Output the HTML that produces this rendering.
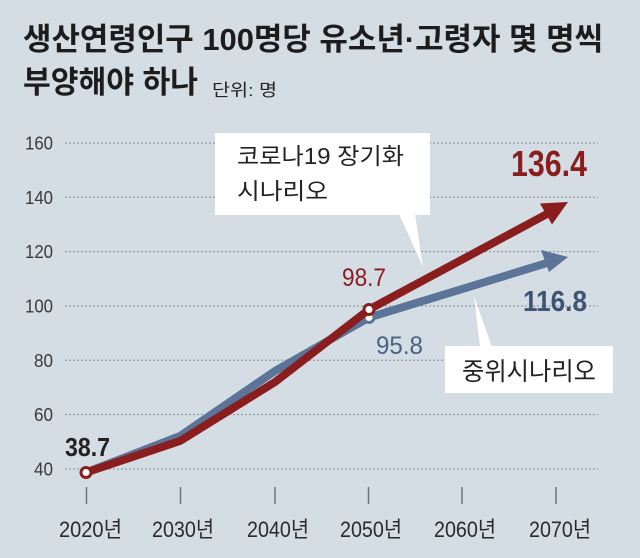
<!DOCTYPE html>
<html>
<head>
<meta charset="utf-8">
<style>
  html,body{margin:0;padding:0;background:#d4dce4;}
  svg{display:block;}
  text{font-family:"Liberation Sans","Noto Sans CJK KR",sans-serif;}
</style>
</head>
<body>
<svg width="640" height="558" viewBox="0 0 640 558" xmlns="http://www.w3.org/2000/svg">
  <rect x="0" y="0" width="640" height="558" fill="#d4dce4"/>

  <!-- Title -->
  <text x="23" y="50" font-size="31" font-weight="bold" fill="#1c1c1c" textLength="580" lengthAdjust="spacingAndGlyphs">생산연령인구 100명당 유소년·고령자 몇 명씩</text>
  <text x="23" y="93" font-size="31" font-weight="bold" fill="#1c1c1c" textLength="175" lengthAdjust="spacingAndGlyphs">부양해야 하나</text>
  <text x="212" y="96" font-size="17" fill="#222" textLength="65" lengthAdjust="spacingAndGlyphs">단위: 명</text>

  <!-- Grid lines -->
  <g stroke="#878d95" stroke-width="1" stroke-dasharray="2,2">
    <line x1="65" y1="143" x2="598" y2="143"/>
    <line x1="65" y1="197.3" x2="598" y2="197.3"/>
    <line x1="65" y1="251.6" x2="598" y2="251.6"/>
    <line x1="65" y1="306" x2="598" y2="306"/>
    <line x1="65" y1="360.3" x2="598" y2="360.3"/>
    <line x1="65" y1="414.6" x2="598" y2="414.6"/>
    <line x1="65" y1="469" x2="598" y2="469"/>
  </g>

  <!-- Y labels -->
  <g font-size="18" fill="#3a3a3a" text-anchor="end">
    <text x="53" y="149.5" textLength="28" lengthAdjust="spacingAndGlyphs">160</text>
    <text x="53" y="203.8" textLength="28" lengthAdjust="spacingAndGlyphs">140</text>
    <text x="53" y="258.1" textLength="28" lengthAdjust="spacingAndGlyphs">120</text>
    <text x="53" y="312.5" textLength="28" lengthAdjust="spacingAndGlyphs">100</text>
    <text x="53" y="366.8" textLength="19" lengthAdjust="spacingAndGlyphs">80</text>
    <text x="53" y="421.1" textLength="19" lengthAdjust="spacingAndGlyphs">60</text>
    <text x="53" y="475.5" textLength="19" lengthAdjust="spacingAndGlyphs">40</text>
  </g>

  <!-- X ticks -->
  <g stroke="#6f747b" stroke-width="1.5">
    <line x1="86.5" y1="487" x2="86.5" y2="504"/>
    <line x1="180.5" y1="487" x2="180.5" y2="504"/>
    <line x1="275" y1="487" x2="275" y2="504"/>
    <line x1="368.5" y1="487" x2="368.5" y2="504"/>
    <line x1="462" y1="487" x2="462" y2="504"/>
    <line x1="556" y1="487" x2="556" y2="504"/>
  </g>

  <!-- X labels -->
  <g font-size="22" fill="#2a2a2a">
    <text x="59" y="537" textLength="63" lengthAdjust="spacingAndGlyphs">2020년</text>
    <text x="152" y="537" textLength="62" lengthAdjust="spacingAndGlyphs">2030년</text>
    <text x="247" y="537" textLength="62" lengthAdjust="spacingAndGlyphs">2040년</text>
    <text x="340" y="537" textLength="62" lengthAdjust="spacingAndGlyphs">2050년</text>
    <text x="434" y="537" textLength="62" lengthAdjust="spacingAndGlyphs">2060년</text>
    <text x="529" y="537" textLength="62" lengthAdjust="spacingAndGlyphs">2070년</text>
  </g>

  <!-- Callout: top -->
  <rect x="215" y="133" width="215" height="82" fill="#ffffff"/>
  <polygon points="399,214 415,214 423,267" fill="#ffffff"/>
  <text x="237" y="164" font-size="23" fill="#222" textLength="167" lengthAdjust="spacingAndGlyphs">코로나19 장기화</text>
  <text x="237" y="199" font-size="23" fill="#222" textLength="91" lengthAdjust="spacingAndGlyphs">시나리오</text>

  <!-- Callout: bottom -->
  <rect x="445" y="346" width="168" height="47" fill="#ffffff"/>
  <polygon points="480,347 492,347 474,296" fill="#ffffff"/>
  <text x="462" y="380" font-size="25" fill="#222" textLength="134" lengthAdjust="spacingAndGlyphs">중위시나리오</text>

  <!-- Blue series -->
  <polyline points="86,472.5 180,436 275,371 369,317.5 547,263" fill="none" stroke="#5b7497" stroke-width="8" stroke-linejoin="round"/>
  <polygon points="568,257 541,250 549,272" fill="#5b7497"/>
  <circle cx="369" cy="317.5" r="5" fill="#ffffff" stroke="#5b7497" stroke-width="3"/>

  <!-- Red series -->
  <polyline points="86,472.5 180,441 275,382 369,309.5 547,214" fill="none" stroke="#8a1d1d" stroke-width="8" stroke-linejoin="round"/>
  <polygon points="568,202 540,203.5 552,224.5" fill="#8a1d1d"/>
  <circle cx="86" cy="472.5" r="5" fill="#ffffff" stroke="#8a1d1d" stroke-width="3"/>
  <circle cx="369" cy="309.5" r="5" fill="#ffffff" stroke="#8a1d1d" stroke-width="3"/>

  <!-- Value labels -->
  <text x="65" y="456" font-size="26" font-weight="bold" fill="#222" textLength="45" lengthAdjust="spacingAndGlyphs">38.7</text>
  <text x="342" y="286" font-size="25" fill="#8a1d1d" textLength="44" lengthAdjust="spacingAndGlyphs">98.7</text>
  <text x="376" y="354" font-size="25" fill="#4b6283" textLength="47" lengthAdjust="spacingAndGlyphs">95.8</text>
  <text x="511" y="176" font-size="36" font-weight="bold" fill="#8a1d1d" textLength="76" lengthAdjust="spacingAndGlyphs">136.4</text>
  <text x="523" y="311" font-size="29" font-weight="bold" fill="#3d5472" textLength="64" lengthAdjust="spacingAndGlyphs">116.8</text>
</svg>
</body>
</html>
